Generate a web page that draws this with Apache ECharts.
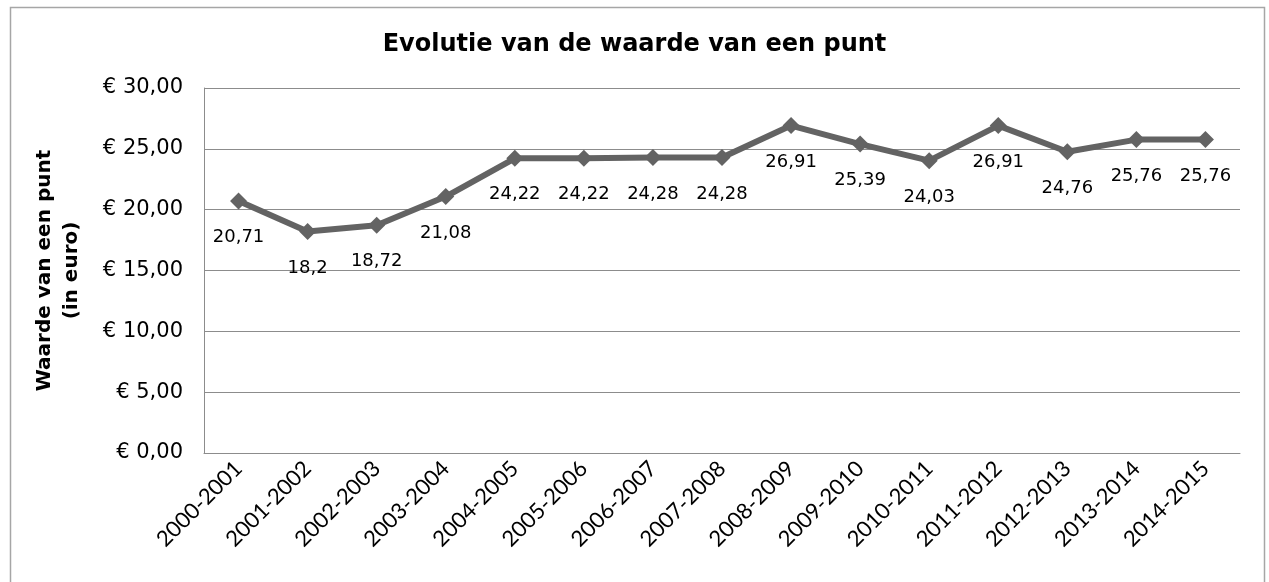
<!DOCTYPE html>
<html>
<head>
<meta charset="utf-8">
<script src="https://cdn.jsdelivr.net/npm/echarts@6/dist/echarts.min.js"></script>
<style>
  html, body { margin: 0; padding: 0; background: #fff; }
  #chart { width: 1269px; height: 582px; }
</style>
</head>
<body>
<div id="chart"></div>
<script>
// schooljaren
var categories = [
  '2000-2001', '2001-2002', '2002-2003', '2003-2004', '2004-2005',
  '2005-2006', '2006-2007', '2007-2008', '2008-2009', '2009-2010',
  '2010-2011', '2011-2012', '2012-2013', '2013-2014', '2014-2015'
];
// waarde van een punt (euro)
var values = [20.71, 18.2, 18.72, 21.08, 24.22, 24.22, 24.28, 24.28, 26.91, 25.39, 24.03, 26.91, 24.76, 25.76, 25.76];
var yTicks = [0, 5, 10, 15, 20, 25, 30];

var lineColor = '#636363';
var gridColor = '#8c8c8c';

var chart = echarts.init(document.getElementById('chart'));

var option = {
  animation: false,
  title: {
    text: 'Evolutie van de waarde van een punt',
    left: 'center',
    top: 28,
    textStyle: { fontFamily: 'DejaVu Sans', fontWeight: 'bold', fontSize: 24, color: '#000' }
  },
  graphic: [{
    type: 'rect',
    left: 8, top: 5,
    shape: { width: 1254, height: 600 },
    style: { fill: 'none', stroke: '#a6a6a6', lineWidth: 1.5 },
    silent: true
  }],
  grid: { left: 204, right: 29, top: 88, bottom: 129, outerBoundsMode: 'none', containLabel: false },
  xAxis: {
    type: 'category',
    data: categories,
    boundaryGap: true,
    axisLine: { lineStyle: { color: gridColor, width: 1 } },
    axisTick: { show: false },
    axisLabel: {
      rotate: 45,
      interval: 0,
      margin: 12,
      fontFamily: 'Lato',
      fontSize: 22,
      color: '#000'
    }
  },
  yAxis: {
    type: 'value',
    min: yTicks[0],
    max: yTicks[yTicks.length - 1],
    interval: 5,
    name: 'Waarde van een punt\n(in euro)',
    nameLocation: 'middle',
    nameGap: 119,
    nameTextStyle: { fontFamily: 'DejaVu Sans', fontWeight: 'bold', fontSize: 20, color: '#000', lineHeight: 27 },
    axisLine: { show: true, lineStyle: { color: gridColor, width: 1 } },
    axisTick: { show: false },
    splitLine: { lineStyle: { color: gridColor, width: 1 } },
    axisLabel: {
      margin: 21,
      fontFamily: 'DejaVu Sans',
      fontSize: 21,
      color: '#000',
      formatter: function (v) { return '€ ' + v.toFixed(2).replace('.', ','); }
    }
  },
  series: [{
    type: 'line',
    data: values,
    symbol: 'diamond',
    symbolSize: 17,
    lineStyle: { color: lineColor, width: 6 },
    itemStyle: { color: lineColor },
    label: {
      show: true,
      position: 'bottom',
      distance: 19,
      fontFamily: 'DejaVu Sans',
      fontSize: 18,
      color: '#000',
      formatter: function (p) { return String(p.value).replace('.', ','); }
    }
  }]
};

chart.setOption(option);
</script>
</body>
</html>
